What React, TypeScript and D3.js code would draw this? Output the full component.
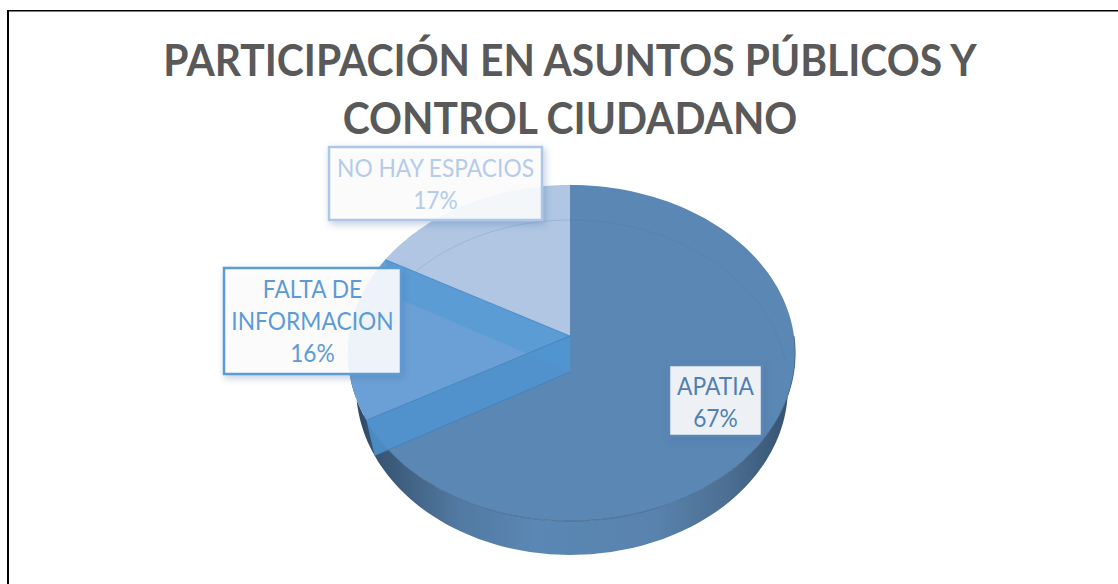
import React from "react";
import * as d3 from "d3";

const titleLines = ["PARTICIPACIÓN EN ASUNTOS PÚBLICOS Y", "CONTROL CIUDADANO"];
const categories = ["APATIA", "FALTA DE INFORMACION", "NO HAY ESPACIOS"];
const values = [67, 16, 17];
const topColors = ["#5a87b4", "#6ba0d6", "#b0c6e3"];
const borderColors = ["#5a87b8", "#5b9bd5", "#aec7e9"];
const textColors = ["#5080b2", "#5b9bd5", "#b4cbea"];
const labelLines = [["APATIA", "67%"], ["FALTA DE", "INFORMACION", "16%"], ["NO HAY ESPACIOS", "17%"]];
const labelBoxes = [
  { x: 669, y: 365, w: 93, h: 71 },
  { x: 224, y: 268, w: 177, h: 106 },
  { x: 329, y: 147, w: 213, h: 73 },
];

const W = 1118, H = 584;
const cx = 570;
const topDisc = { y: 336, right: 224, left: 221, sy: 166.3, p: -0.1012 };
const lowDisc = { y: 372, right: 217, left: 213, sy: 166, p: -0.0925 };
type Disc = typeof topDisc;

// Perspective projection of a unit-disc point at clockwise angle a from the back
const rim = (a: number, d: Disc = topDisc): [number, number] => {
  const u = Math.sin(a), v = -Math.cos(a);
  const k = 1 + d.p * v;
  return [cx + ((u >= 0 ? d.right : d.left) * u) / k, d.y + (d.sy * v) / k];
};

const arcs = d3.pie<number>().sort(null)(values);
const line = d3.line();

const sweep = (a0: number, a1: number, d: Disc = topDisc) =>
  d3.range(0, 121).map((i) => rim(a0 + ((a1 - a0) * i) / 120, d));

const wedgePath = (a0: number, a1: number) =>
  line([[cx, topDisc.y], ...sweep(a0, a1)])! + "Z";

const facePath = (a: number) =>
  line([[cx, topDisc.y], rim(a), rim(a, lowDisc), [cx, lowDisc.y]])! + "Z";

const hullPath =
  line([...sweep(Math.PI * 0.5, Math.PI * 1.5), ...sweep(Math.PI * 1.55, Math.PI * 0.45, lowDisc)])! + "Z";

const splitAngle1 = arcs[0].endAngle;
const splitAngle2 = arcs[1].endAngle;

export default function App() {
  return (
    <svg
      width={W}
      height={H}
      viewBox={`0 0 ${W} ${H}`}
      style={{ position: "absolute", left: 0, top: 0, background: "#fff" }}
    >
      <defs>
        <linearGradient id="side" x1="0" x2="1" y1="0" y2="0">
          <stop offset="0" stopColor="#2c4560" />
          <stop offset="0.12" stopColor="#3f5f80" />
          <stop offset="0.25" stopColor="#527aa2" />
          <stop offset="0.42" stopColor="#5a87b4" />
          <stop offset="0.68" stopColor="#5983ae" />
          <stop offset="0.85" stopColor="#4c6f92" />
          <stop offset="1" stopColor="#33506e" />
        </linearGradient>
        <filter id="shadow" x="-20%" y="-20%" width="140%" height="140%">
          <feDropShadow dx="2" dy="3" stdDeviation="3.5" floodColor="#3f6c9c" floodOpacity="0.35" />
        </filter>
      </defs>

      <line x1={8} x2={1118} y1={10.7} y2={10.7} stroke="#000" strokeWidth={1.4} />
      <line x1={8} x2={8} y1={10} y2={584} stroke="#000" strokeWidth={2} />

      <g fontFamily="Lato" fontWeight={700} fontSize={44.5} fill="#595959" textAnchor="middle">
        {titleLines.map((t, i) => (
          <text key={t} transform={`translate(570,${76 + i * 58}) scale(0.917,1)`}>{t}</text>
        ))}
      </g>

      <path d={hullPath} fill="url(#side)" />
      {arcs.map((a, i) => (
        <path key={categories[i]} d={wedgePath(a.startAngle, a.endAngle)} fill={topColors[i]} />
      ))}
      <path d={line(sweep(Math.PI * 1.55, Math.PI * 2.48, lowDisc))!} fill="none" stroke="#44709c" strokeOpacity={0.18} />
      <path d={line(sweep(Math.PI * 0.5, Math.PI * 1.35))!} fill="none" stroke="#3d5f83" strokeOpacity={0.7} />

      <path d={facePath(splitAngle2)} fill="#5b9bd5" fillOpacity={0.9} />
      <path d={facePath(splitAngle1)} fill="#5094d0" fillOpacity={0.85} />
      <path d={line([[cx, topDisc.y], rim(splitAngle2)])!} stroke="#3d7fbd" strokeOpacity={0.7} />
      <path d={line([[cx, topDisc.y], rim(splitAngle1)])!} stroke="#3d7fbd" strokeOpacity={0.8} />
      <path d={line([[cx, lowDisc.y], rim(splitAngle1, lowDisc)])!} stroke="#3d7fbd" strokeOpacity={0.7} />

      {labelBoxes.map((b, i) => (
        <g key={categories[i]}>
          <rect
            x={b.x}
            y={b.y}
            width={b.w}
            height={b.h}
            fill="#fff"
            fillOpacity={0.88}
            stroke={borderColors[i]}
            strokeWidth={2.5}
            filter="url(#shadow)"
          />
          {labelLines[i].map((t, j) => (
            <text
              key={t}
              transform={`translate(${b.x + b.w / 2},${b.y + 30 + j * 32}) scale(0.93,1)`}
              textAnchor="middle"
              fontFamily="Lato"
              fontSize={24.5}
              fill={textColors[i]}
            >
              {t}
            </text>
          ))}
        </g>
      ))}
    </svg>
  );
}
